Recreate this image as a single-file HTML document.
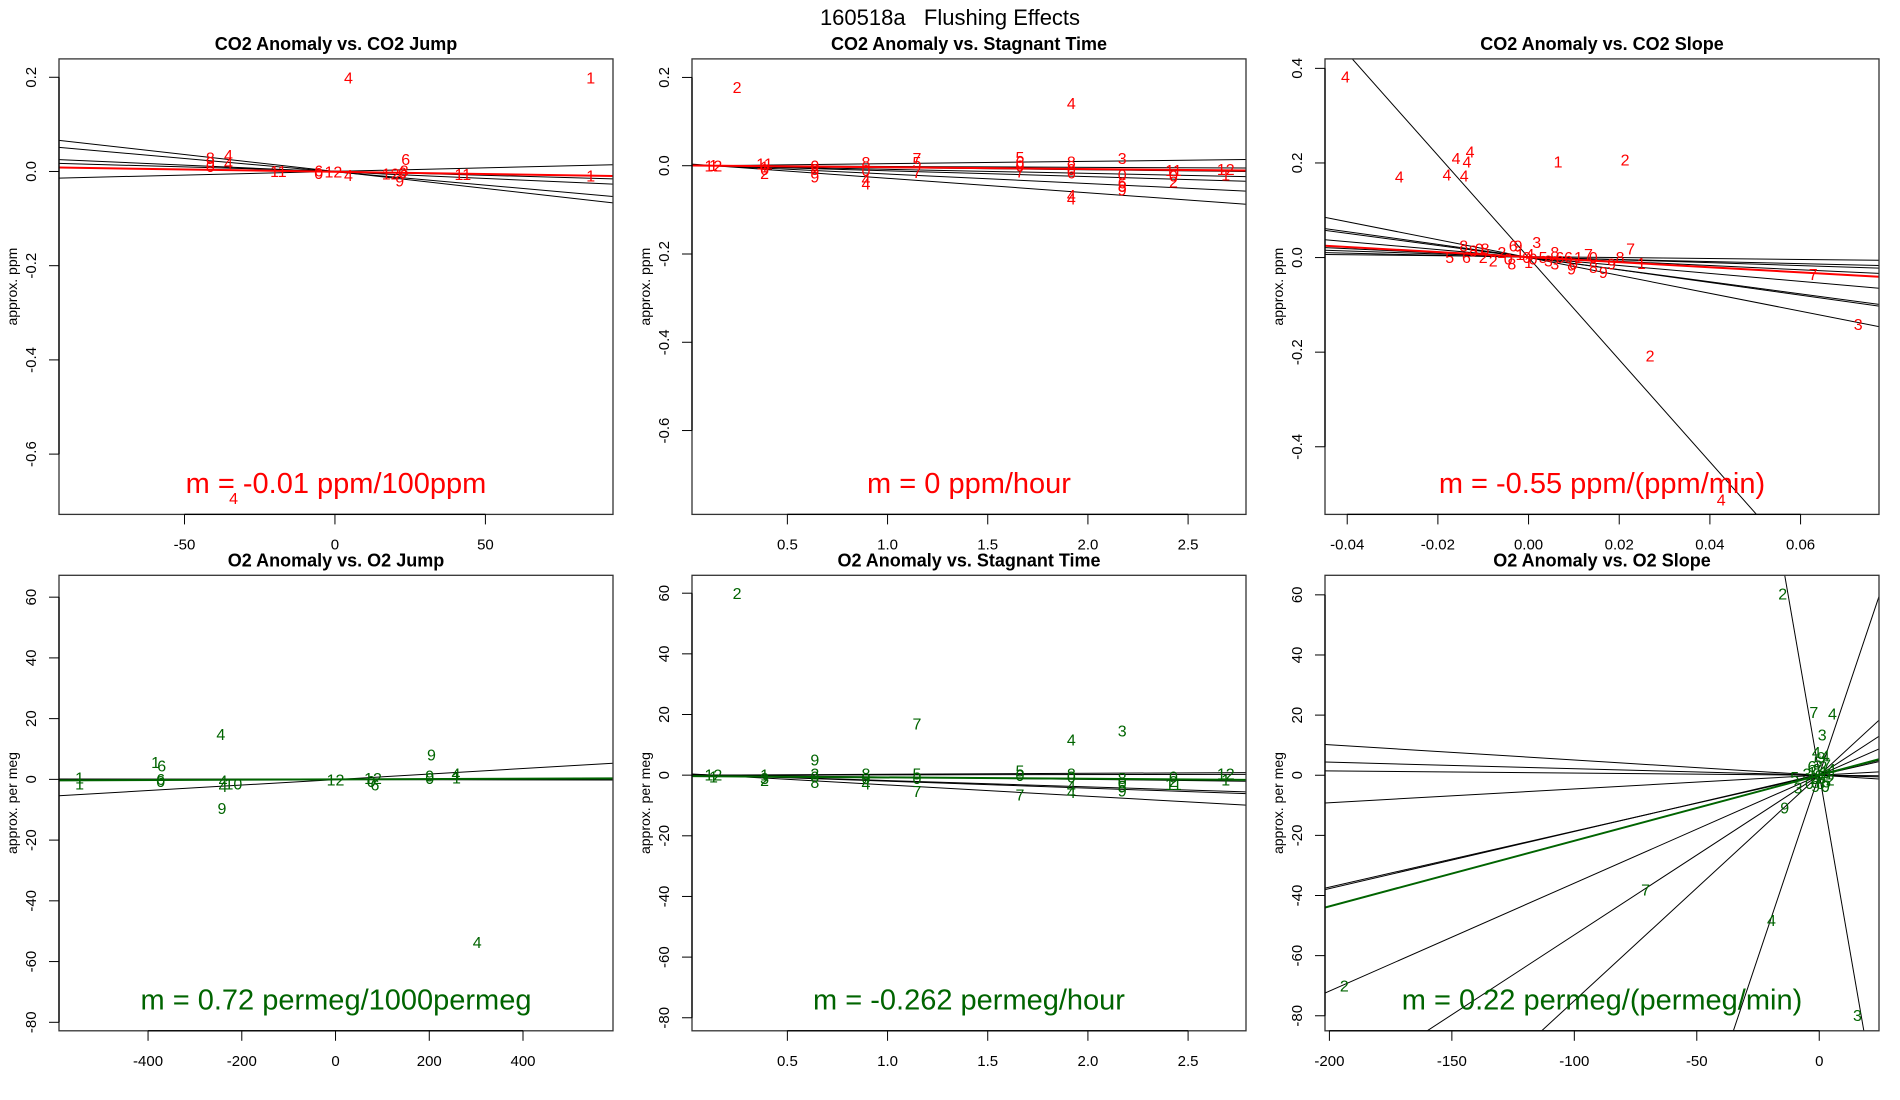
<!DOCTYPE html>
<html><head><meta charset="utf-8"><title>160518a Flushing Effects</title>
<style>
html,body{margin:0;padding:0;background:#fff;width:1900px;height:1100px;overflow:hidden;}
svg{display:block;font-family:"Liberation Sans",Arial,sans-serif;}
</style></head>
<body>
<svg id="fig" width="1900" height="1100" viewBox="0 0 1900 1100" xmlns="http://www.w3.org/2000/svg">
<rect width="1900" height="1100" fill="#fff"/>
<text x="950" y="25" text-anchor="middle" font-size="22">160518a&#160;&#160;&#160;Flushing Effects</text>
</svg>
<script>
// ---- Panel 1: CO2 Anomaly vs CO2 Jump ----
const p1Points = [[-41.4,0.03,'8'],[-41.4,0.02,'9'],[-41.4,0.012,'0'],[-35.4,0.035,'4'],[-35.4,0.018,'4'],[-18.8,0.001,'11'],[-5.4,0.002,'6'],[-5.4,-0.003,'0'],[-0.5,0.0,'12'],[4.5,-0.008,'4'],[18.5,-0.004,'12'],[21.5,-0.019,'9'],[22.5,-0.002,'0'],[23.5,0.027,'6'],[23,0.002,'8'],[42.5,-0.005,'11'],[85,-0.009,'1'],[4.5,0.2,'4'],[85,0.2,'1'],[-33.7,-0.693,'4']];
const p1LineSlopes = [-0.00072,-0.000566,-0.000283,-0.000178,0.000154];
const p1LineInts = [0.0,-0.0007,-0.0007,0.0008,0.0001];
const p1FitSlope = -0.0000973;
const p1FitInt = -0.0006;
const p1XTicks = [-50,0,50];
const p1YTicks = [0.2,0.0,-0.2,-0.4,-0.6];
const p1YTickLabels = ['0.2','0.0','-0.2','-0.4','-0.6'];

// ---- Panel 2: CO2 Anomaly vs Stagnant Time ----
const p2Points = [[0.249,0.178,'2'],[1.917,0.142,'4'],[0.131,0.0,'12'],[0.131,0.002,'1'],[0.386,0.005,'11'],[0.386,-0.002,'1'],[0.386,-0.016,'2'],[0.386,-0.008,'0'],[0.637,0.0,'0'],[0.637,-0.008,'8'],[0.637,-0.024,'9'],[0.892,0.008,'8'],[0.892,-0.01,'0'],[0.892,-0.03,'4'],[0.892,-0.04,'4'],[1.147,0.018,'7'],[1.147,0.008,'5'],[1.147,-0.014,'7'],[1.661,0.02,'5'],[1.661,0.01,'6'],[1.661,0.0,'0'],[1.661,-0.013,'7'],[1.917,0.01,'8'],[1.917,-0.008,'0'],[1.917,-0.015,'6'],[1.917,-0.066,'4'],[1.917,-0.074,'4'],[2.171,0.018,'3'],[2.171,-0.02,'0'],[2.171,-0.038,'6'],[2.171,-0.046,'8'],[2.171,-0.054,'9'],[2.427,-0.01,'11'],[2.427,-0.022,'0'],[2.427,-0.036,'2'],[2.688,-0.008,'12'],[2.688,-0.02,'1']];
const p2LineSlopes = [0.0053,-0.0020,-0.0049,-0.0093,-0.0132,-0.0216,-0.0328];
const p2LineInts = [-0.0007,0.0003,0.0006,0.0012,0.0017,0.0028,0.0043];
const p2FitSlope = -0.0041;
const p2FitInt = 0.0006;
const p2XTicks = [0.5,1.0,1.5,2.0,2.5];
const p2XTickLabels = ['0.5','1.0','1.5','2.0','2.5'];
const p2YTicks = [0.2,0.0,-0.2,-0.4,-0.6];
const p2YTickLabels = ['0.2','0.0','-0.2','-0.4','-0.6'];

// ---- Panel 3: CO2 Anomaly vs CO2 Slope ----
const p3Points = [[-0.0404,0.383,'4'],[-0.0285,0.171,'4'],[-0.018,0.176,'4'],[-0.016,0.211,'4'],[-0.0129,0.224,'4'],[-0.0136,0.203,'4'],[-0.0142,0.174,'4'],[0.0065,0.203,'1'],[0.0213,0.207,'2'],[0.0268,-0.207,'2'],[0.0425,-0.511,'4'],[0.0727,-0.14,'3'],[0.0628,-0.035,'7'],[0.0225,0.019,'7'],[0.0249,-0.012,'1'],
[-0.0174,0.001,'5'],[-0.0143,0.026,'8'],[-0.0137,0.001,'6'],[-0.0122,0.015,'8'],[-0.0109,0.019,'0'],[-0.010,0.001,'2'],[-0.0096,0.019,'8'],[-0.0078,-0.006,'2'],[-0.0059,0.012,'2'],[-0.0045,-0.002,'0'],[-0.0037,-0.013,'8'],[-0.0034,0.026,'6'],[-0.0023,0.026,'9'],[0.0018,0.033,'3'],[-0.0019,0.008,'1'],[-0.0004,0.001,'0'],[0.0,-0.009,'1'],[0.0003,0.008,'4'],[0.001,-0.002,'0'],[0.0032,0.001,'5'],[0.0044,-0.006,'3'],[0.0058,0.012,'8'],[0.0069,0.001,'6'],[0.0058,-0.013,'3'],[0.0088,0.001,'6'],[0.0099,-0.013,'0'],[0.0095,-0.023,'9'],[0.011,0.001,'1'],[0.0132,0.008,'7'],[0.0143,0.001,'0'],[0.0143,-0.02,'8'],[0.0165,-0.03,'9'],[0.0183,-0.013,'9'],[0.0202,0.001,'8']];
const p3LineSlopes = [-10.8,-1.89,-1.342,-1.281,-0.84,-0.447,-0.309,-0.222,-0.1];
const p3LineInts = [0.0,0.0,0.001,0.0,0.0,0.001,0.0015,0.0004,0.002];
const p3FitSlope = -0.537;
const p3FitInt = 0.0009;
const p3XTicks = [-0.04,-0.02,0.0,0.02,0.04,0.06];
const p3XTickLabels = ['-0.04','-0.02','0.00','0.02','0.04','0.06'];
const p3YTicks = [0.4,0.2,0.0,-0.2,-0.4];
const p3YTickLabels = ['0.4','0.2','0.0','-0.2','-0.4'];

// ---- Panel 4: O2 Anomaly vs O2 Jump ----
const p4Points = [[-244.8,15.0,'4'],[-242.2,-9.4,'9'],[-384,5.8,'1'],[-371,4.6,'6'],[-546,0.6,'1'],[-546,-1.3,'1'],[-373,0.2,'6'],[-373,-0.6,'0'],[-240,-0.3,'4'],[-218,-1.3,'10'],[-240,-2.2,'4'],[0,0,'12'],[80,0.4,'12'],[84,-1.7,'6'],[76,-0.6,'0'],[204.6,8.2,'9'],[201,1.2,'9'],[201,0.4,'0'],[257,2.0,'4'],[258,0.6,'1'],[302.4,-53.5,'4']];
const p4LineSlopes = [0.00905,-0.0003,0.0001];
const p4LineInts = [-0.06,-0.05,0.1];
const p4FitSlope = 0.00058;
const p4FitInt = 0.0;
const p4XTicks = [-400,-200,0,200,400];
const p4YTicks = [60,40,20,0,-20,-40,-60,-80];

// ---- Panel 5: O2 Anomaly vs Stagnant Time ----
const p5Points = [[0.249,60.1,'2'],[1.147,17.0,'7'],[1.917,11.8,'4'],[2.171,14.7,'3'],[0.637,5.2,'9'],[0.131,0.2,'12'],[0.131,-0.5,'1'],[0.386,0.2,'1'],[0.386,-1.0,'3'],[0.386,-1.6,'2'],[0.637,0.5,'2'],[0.637,-0.5,'0'],[0.637,-2.2,'8'],[0.892,0.5,'8'],[0.892,-1.0,'0'],[0.892,-2.8,'4'],[1.147,0.6,'5'],[1.147,-1.0,'0'],[1.147,-5.3,'7'],[1.661,1.5,'5'],[1.661,0.0,'0'],[1.661,-6.4,'7'],[1.917,0.5,'8'],[1.917,-0.5,'0'],[1.917,-3.6,'4'],[1.917,-5.6,'4'],[2.171,-1.0,'8'],[2.171,-2.5,'0'],[2.171,-3.6,'5'],[2.171,-5.0,'9'],[2.427,-0.5,'0'],[2.427,-2.0,'2'],[2.427,-3.0,'11'],[2.688,0.5,'12'],[2.688,-1.5,'1']];
const p5LineSlopes = [0.32,0.10,-0.75,-2.07,-2.29,-3.72];
const p5LineInts = [-0.04,-0.01,0.1,0.27,0.3,0.48];
const p5FitSlope = -0.45;
const p5FitInt = -0.3;
const p5YTicks = [60,40,20,0,-20,-40,-60,-80];

// ---- Panel 6: O2 Anomaly vs O2 Slope ----
const p6Points = [[-14.9,60.5,'2'],[-193.9,-69.9,'2'],[-70.9,-38.0,'7'],[-19.5,-48.1,'4'],[15.6,-79.8,'3'],[-1.2,7.7,'4'],[0.8,6,'9'],[2.5,6.5,'4'],[1.2,13.5,'3'],[-2.2,21,'7'],[5.4,20.5,'4'],[-10,-0.6,'5'],[-8.7,-4,'3'],[-14.1,-10.8,'9'],[-3,1,'1'],[-2,-1,'2'],[-1,2,'8'],[0,0,'0'],[1,-1,'6'],[2,1,'1'],[3,-2,'5'],[4,0.5,'1'],[-4,-2.5,'0'],[-1.5,-3.5,'9'],[1.5,3,'2'],[3,3.5,'7'],[-3,3,'6'],[0.5,-2.5,'8'],[2.5,-3.5,'0'],[4.5,-1.5,'2'],[-0.5,4.5,'5'],[5,2,'4'],[-5,0.5,'3']];
const p6LineSlopes = [-4.69,2.43,0.75,0.531,0.359,0.186,0.19,0.0457,-0.0507,-0.0218,-0.0072];
const p6LineInts = [0.4,0.2,0,0,0,0,0.3,0,0,0,0];
const p6FitSlope = 0.218;
const p6FitInt = 0.0;
const p6XTicks = [-200,-150,-100,-50,0];
const p6YTicks = [60,40,20,0,-20,-40,-60,-80];

const NS = 'http://www.w3.org/2000/svg';
const svg = document.getElementById('fig');
function mk(tag, attrs, parent) {
  const e = document.createElementNS(NS, tag);
  for (const k in attrs) e.setAttribute(k, attrs[k]);
  (parent || svg).appendChild(e);
  return e;
}

function drawPanel(cfg) {
  const L = cfg.left, T = cfg.top, W = 554, H = 455.5;
  const xs = v => L + (v - cfg.xr[0]) / (cfg.xr[1] - cfg.xr[0]) * W;
  const ys = v => T + (cfg.yr[1] - v) / (cfg.yr[1] - cfg.yr[0]) * H;
  const g = mk('g', {});
  
  
  const cp = mk('clipPath', {id: 'clip-' + cfg.name}, g);
  mk('rect', {x: L, y: T, width: W, height: H}, cp);

  const title = mk('text', {x: L + W / 2, y: T - 9, 'text-anchor': 'middle', 'font-size': 18, 'font-weight': 'bold'}, g);
  title.textContent = cfg.title;
  
  

  const lg = mk('g', {'clip-path': 'url(#clip-' + cfg.name + ')'}, g);
  
  
  cfg.slopes.forEach((s, i) => {
    const b = cfg.ints[i];
    const ln = mk('line', {x1: xs(cfg.xr[0]), y1: ys(b + s * cfg.xr[0]), x2: xs(cfg.xr[1]), y2: ys(b + s * cfg.xr[1]), stroke: '#000', 'stroke-width': 1}, lg);
    
    
  });
  const fit = mk('line', {x1: xs(cfg.xr[0]), y1: ys(cfg.fitInt + cfg.fitSlope * cfg.xr[0]), x2: xs(cfg.xr[1]), y2: ys(cfg.fitInt + cfg.fitSlope * cfg.xr[1]), stroke: cfg.color, 'stroke-width': 2}, lg);
  
  

  const pg = mk('g', {'font-size': 16, fill: cfg.color, 'text-anchor': 'middle', 'clip-path': 'url(#clip-' + cfg.name + ')'}, g);
  
  
  cfg.points.forEach(p => {
    const t = mk('text', {x: xs(p[0]), y: ys(p[1]) + 6}, pg);
    t.textContent = p[2];
    
    
  });

  const box = mk('rect', {x: L, y: T, width: W, height: H, fill: 'none', stroke: '#333', 'stroke-width': 1.3}, g);
  
  

  const xa = mk('g', {}, g);
  
  
  const B = T + H;
  mk('line', {x1: xs(cfg.xt[0]), y1: B, x2: xs(cfg.xt[cfg.xt.length - 1]), y2: B, stroke: '#000', 'stroke-width': 1.3}, xa);
  cfg.xt.forEach((v, i) => {
    mk('line', {x1: xs(v), y1: B, x2: xs(v), y2: B + 10, stroke: '#000', 'stroke-width': 1}, xa);
    const t = mk('text', {x: xs(v), y: B + 35, 'text-anchor': 'middle', 'font-size': 15}, xa);
    t.textContent = cfg.xl ? cfg.xl[i] : String(v);
    
    
  });

  const ya = mk('g', {}, g);
  
  
  mk('line', {x1: L, y1: ys(cfg.yt[0]), x2: L, y2: ys(cfg.yt[cfg.yt.length - 1]), stroke: '#000', 'stroke-width': 1.3}, ya);
  cfg.yt.forEach((v, i) => {
    mk('line', {x1: L - 10, y1: ys(v), x2: L, y2: ys(v), stroke: '#000', 'stroke-width': 1}, ya);
    const tx = L - 23, ty = ys(v);
    const t = mk('text', {x: tx, y: ty, 'text-anchor': 'middle', 'font-size': 15, transform: 'rotate(-90 ' + tx + ' ' + ty + ')'}, ya);
    t.textContent = cfg.yl ? cfg.yl[i] : String(v);
    
    
  });
  const yx = L - 42, yy = T + H / 2;
  const yt = mk('text', {x: yx, y: yy, 'text-anchor': 'middle', 'font-size': 14, transform: 'rotate(-90 ' + yx + ' ' + yy + ')'}, g);
  yt.textContent = cfg.ylab;
  
  

  const m = mk('text', {x: L + W / 2, y: T + 434, 'text-anchor': 'middle', 'font-size': 29, fill: cfg.color}, g);
  m.textContent = cfg.slopeText;
  
  
}

const RED = '#ff0000', GREEN = '#006400';
drawPanel({name: 'co2-vs-jump-panel', title: 'CO2 Anomaly vs. CO2 Jump', left: 59, top: 58.9, xr: [-91.7, 92.4], yr: [-0.728, 0.239], points: p1Points, slopes: p1LineSlopes, ints: p1LineInts, fitSlope: p1FitSlope, fitInt: p1FitInt, xt: p1XTicks, yt: p1YTicks, yl: p1YTickLabels, color: RED, ylab: 'approx. ppm', slopeText: 'm = -0.01 ppm/100ppm'});
drawPanel({name: 'co2-vs-stagnant-panel', title: 'CO2 Anomaly vs. Stagnant Time', left: 692, top: 58.9, xr: [0.024, 2.789], yr: [-0.79, 0.242], points: p2Points, slopes: p2LineSlopes, ints: p2LineInts, fitSlope: p2FitSlope, fitInt: p2FitInt, xt: p2XTicks, xl: p2XTickLabels, yt: p2YTicks, yl: p2YTickLabels, color: RED, ylab: 'approx. ppm', slopeText: 'm = 0 ppm/hour'});
drawPanel({name: 'co2-vs-slope-panel', title: 'CO2 Anomaly vs. CO2 Slope', left: 1325, top: 58.9, xr: [-0.0449, 0.0773], yr: [-0.543, 0.42], points: p3Points, slopes: p3LineSlopes, ints: p3LineInts, fitSlope: p3FitSlope, fitInt: p3FitInt, xt: p3XTicks, xl: p3XTickLabels, yt: p3YTicks, yl: p3YTickLabels, color: RED, ylab: 'approx. ppm', slopeText: 'm = -0.55 ppm/(ppm/min)'});
drawPanel({name: 'o2-vs-jump-panel', title: 'O2 Anomaly vs. O2 Jump', left: 59, top: 575.3, xr: [-590, 592], yr: [-82.8, 67.2], points: p4Points, slopes: p4LineSlopes, ints: p4LineInts, fitSlope: p4FitSlope, fitInt: p4FitInt, xt: p4XTicks, yt: p4YTicks, color: GREEN, ylab: 'approx. per meg', slopeText: 'm = 0.72 permeg/1000permeg'});
drawPanel({name: 'o2-vs-stagnant-panel', title: 'O2 Anomaly vs. Stagnant Time', left: 692, top: 575.3, xr: [0.024, 2.789], yr: [-84.3, 65.9], points: p5Points, slopes: p5LineSlopes, ints: p5LineInts, fitSlope: p5FitSlope, fitInt: p5FitInt, xt: p2XTicks, xl: p2XTickLabels, yt: p5YTicks, color: GREEN, ylab: 'approx. per meg', slopeText: 'm = -0.262 permeg/hour'});
drawPanel({name: 'o2-vs-slope-panel', title: 'O2 Anomaly vs. O2 Slope', left: 1325, top: 575.3, xr: [-201.8, 24.4], yr: [-85, 66.5], points: p6Points, slopes: p6LineSlopes, ints: p6LineInts, fitSlope: p6FitSlope, fitInt: p6FitInt, xt: p6XTicks, yt: p6YTicks, color: GREEN, ylab: 'approx. per meg', slopeText: 'm = 0.22 permeg/(permeg/min)'});
</script>
</body></html>
